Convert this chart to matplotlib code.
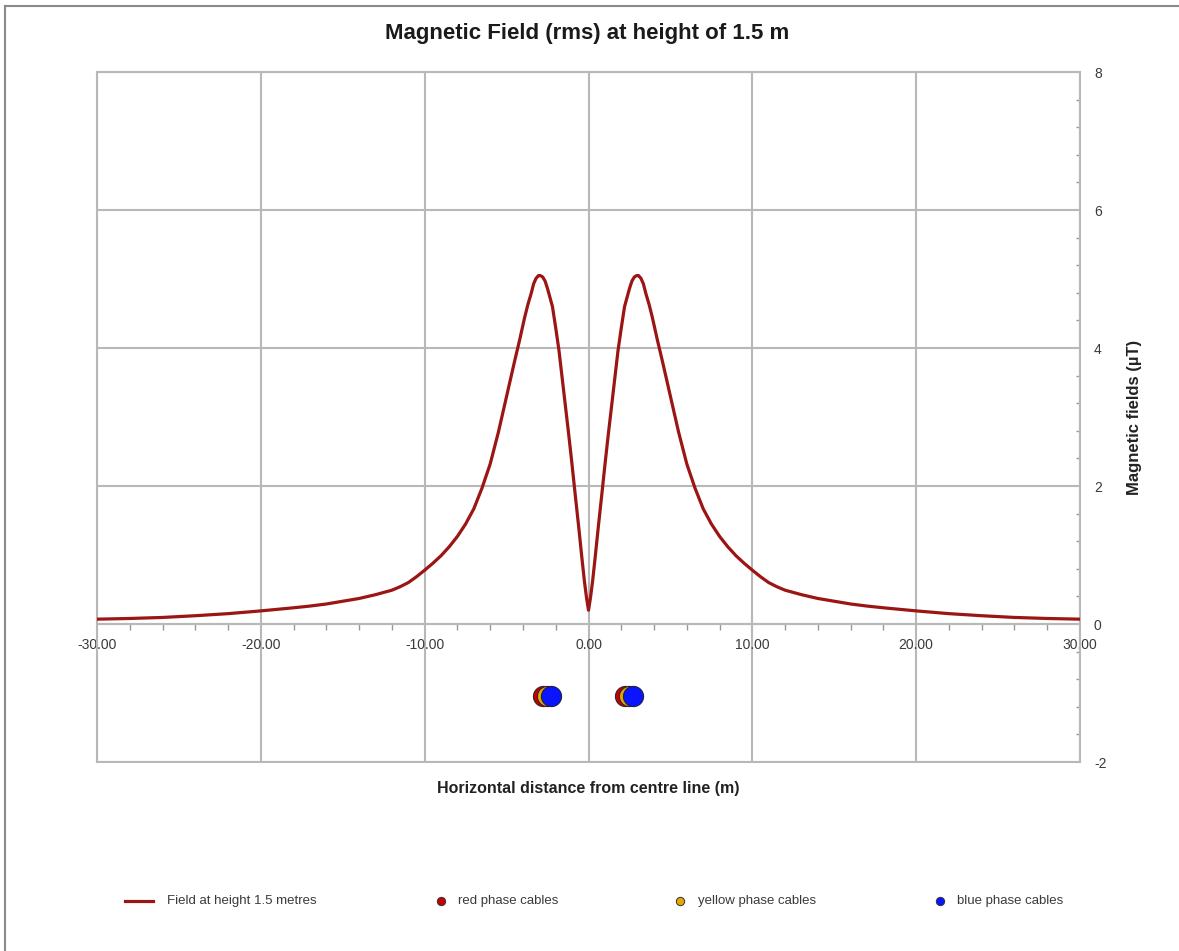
import matplotlib
matplotlib.use('Agg')
import matplotlib.pyplot as plt
from matplotlib.lines import Line2D
from matplotlib.ticker import MultipleLocator, FuncFormatter

plt.rcParams['font.family'] = ['Liberation Sans', 'DejaVu Sans']

# ---- data ----
distance = [-30, -28, -26, -24, -22, -20, -18, -17, -16, -15, -14, -13, -12, -11.5, -11,
            -10.5, -10, -9.5, -9, -8.5, -8, -7.5, -7, -6.5, -6, -5.5, -5, -4.5, -4.2,
            -3.9, -3.7, -3.5, -3.35, -3.2, -3.05, -2.95, -2.8, -2.65, -2.5, -2.35, -2.2,
            -2.0, -1.8, -1.6, -1.4, -1.2, -1.0, -0.8, -0.6, -0.4, -0.25, -0.12, 0,
            0.12, 0.25, 0.4, 0.6, 0.8, 1.0, 1.2, 1.4, 1.6, 1.8, 2.0,
            2.2, 2.35, 2.5, 2.65, 2.8, 2.95, 3.05, 3.2, 3.35, 3.5, 3.7, 3.9,
            4.2, 4.5, 5, 5.5, 6, 6.5, 7, 7.5, 8, 8.5, 9, 9.5, 10, 10.5,
            11, 11.5, 12, 13, 14, 15, 16, 17, 18, 20, 22, 24, 26, 28, 30]
field = [0.07, 0.08, 0.095, 0.12, 0.15, 0.19, 0.235, 0.26, 0.29, 0.33, 0.37, 0.425, 0.49, 0.54, 0.60,
         0.685, 0.78, 0.88, 0.99, 1.12, 1.27, 1.45, 1.67, 1.97, 2.32, 2.78, 3.30, 3.82, 4.12,
         4.44, 4.63, 4.79, 4.93, 5.01, 5.05, 5.05, 5.03, 4.97, 4.86, 4.73, 4.60,
         4.29, 3.96, 3.55, 3.14, 2.73, 2.30, 1.85, 1.41, 0.95, 0.62, 0.38, 0.20,
         0.38, 0.62, 0.95, 1.41, 1.85, 2.30, 2.73, 3.14, 3.55, 3.96, 4.29,
         4.60, 4.73, 4.86, 4.97, 5.03, 5.05, 5.05, 5.01, 4.93, 4.79, 4.63, 4.44,
         4.12, 3.82, 3.30, 2.78, 2.32, 1.97, 1.67, 1.45, 1.27, 1.12, 0.99, 0.88, 0.78, 0.685,
         0.60, 0.54, 0.49, 0.425, 0.37, 0.33, 0.29, 0.26, 0.235, 0.19, 0.15, 0.12, 0.095, 0.08, 0.07]

red_x = [-2.77, 2.23]
yellow_x = [-2.53, 2.47]
blue_x = [-2.30, 2.72]
cable_y = [-1.05, -1.05]

x_ticks = [-30, -20, -10, 0, 10, 20, 30]
y_ticks = [-2, 0, 2, 4, 6, 8]

title = 'Magnetic Field (rms) at height of 1.5 m'
xlabel = 'Horizontal distance from centre line (m)'
ylabel = 'Magnetic fields (µT)'
legend_labels = ['Field at height 1.5 metres', 'red phase cables',
                 'yellow phase cables', 'blue phase cables']

# ---- styles ----
W, H = 1179, 951
curve_col = '#9b1515'
grid_col = '#b8b8b8'
text_col = '#3a3a3a'
red_c, yel_c, blu_c = '#c40000', '#e3a800', '#0a14ff'

fig = plt.figure(figsize=(W / 100, H / 100), dpi=100)
fig.patch.set_facecolor('white')

L, R, T, B = 97, 1080, 72, 762
ax = fig.add_axes([L / W, 1 - B / H, (R - L) / W, (B - T) / H])
ax.set_xlim(-30, 30)
ax.set_ylim(-2, 8)

for s in ['left', 'right', 'top', 'bottom']:
    ax.spines[s].set_color(grid_col)
    ax.spines[s].set_linewidth(1.5)
ax.spines['bottom'].set_position(('data', 0))
ax.axhline(-2, color=grid_col, lw=1.5, clip_on=False, zorder=1)

ax.set_xticks(x_ticks)
ax.xaxis.set_minor_locator(MultipleLocator(2))
ax.xaxis.set_major_formatter(FuncFormatter(lambda v, p: f'{v:.2f}'))
ax.tick_params(axis='x', which='major', length=0, pad=10, labelsize=10, labelcolor=text_col)
ax.tick_params(axis='x', which='minor', direction='out', length=4, width=1, color='#999999')

ax.yaxis.tick_right()
ax.set_yticks(y_ticks)
ax.yaxis.set_minor_locator(MultipleLocator(0.4))
ax.yaxis.set_major_formatter(FuncFormatter(lambda v, p: f'{v:.0f}'))
ax.tick_params(axis='y', which='major', length=0, pad=10, labelsize=10, labelcolor=text_col)
ax.tick_params(axis='y', which='minor', direction='in', length=3, width=1, color='#999999')

ax.grid(True, which='major', color=grid_col, lw=1.5, zorder=0)
ax.set_axisbelow(True)

ax.plot(distance, field, color=curve_col, lw=2.3, zorder=5,
        solid_capstyle='round', solid_joinstyle='round')

ms = 14.5
ax.plot(red_x, cable_y, 'o', ms=ms, mfc=red_c, mec='#40202a', mew=0.8, zorder=6, clip_on=False)
ax.plot(yellow_x, cable_y, 'o', ms=ms, mfc=yel_c, mec='#40202a', mew=0.8, zorder=7, clip_on=False)
ax.plot(blue_x, cable_y, 'o', ms=ms, mfc=blu_c, mec='#202040', mew=0.8, zorder=8, clip_on=False)

ax.set_xlabel(xlabel, fontsize=11.5, fontweight='bold', color='#222222', va='center')
ax.xaxis.set_label_coords(0.5, -(789 - B) / (B - T))
ax.yaxis.set_label_position('right')
ax.set_ylabel(ylabel, fontsize=12, fontweight='bold', color='#222222', rotation=90, va='center')
ax.yaxis.set_label_coords((1135 - L) / (R - L), 0.5)

fig.text(587 / W, 1 - 33 / H, title, ha='center', va='center', fontsize=16,
         fontweight='bold', color='#1a1a1a')

# ---- legend (manual, figure coordinates) ----
ly = 1 - 901 / H
fig.add_artist(Line2D([125 / W, 153 / W], [ly, ly], color=curve_col, lw=2.3,
                      transform=fig.transFigure))
fig.text(167 / W, ly, legend_labels[0], ha='left', va='center', fontsize=9.5, color=text_col)
for mx, tx, col, lab in [(441, 458, red_c, legend_labels[1]),
                         (680, 698, yel_c, legend_labels[2]),
                         (940, 957, blu_c, legend_labels[3])]:
    fig.add_artist(Line2D([mx / W], [ly], marker='o', ms=6, mfc=col, mec='#333333', mew=0.7,
                          linestyle='none', transform=fig.transFigure))
    fig.text(tx / W, ly, lab, ha='left', va='center', fontsize=9.5, color=text_col)

# ---- outer frame ----
fig.add_artist(Line2D([5 / W, 5 / W], [0, 1 - 6 / H], color='#8a8a8a', lw=1.5,
                      transform=fig.transFigure))
fig.add_artist(Line2D([5 / W, 1], [1 - 6 / H, 1 - 6 / H], color='#8a8a8a', lw=1.5,
                      transform=fig.transFigure))

fig.savefig('out.png', dpi=100)
